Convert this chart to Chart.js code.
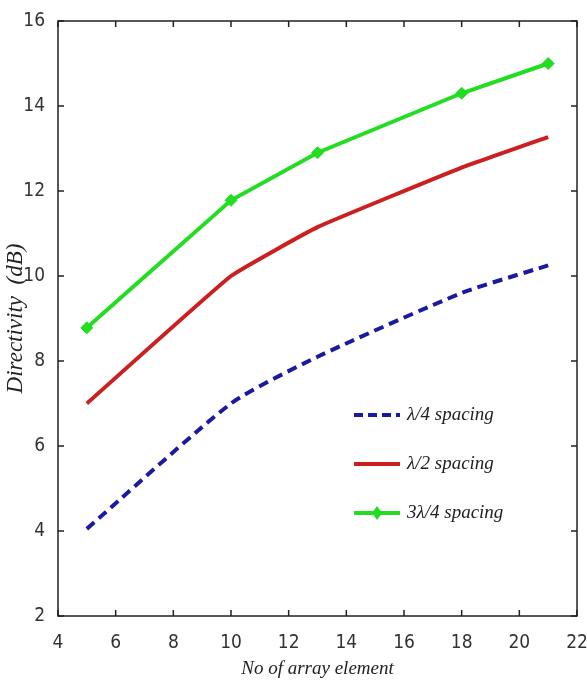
<!DOCTYPE html>
<html>
<head>
<meta charset="utf-8">
<script src="https://cdn.jsdelivr.net/npm/chart.js@4"></script>
<style>
  html, body { margin: 0; padding: 0; background: #fff; }
  #wrap { width: 587px; height: 684px; }
</style>
</head>
<body>
<div id="wrap"><canvas id="myChart" width="587" height="684"></canvas></div>
<script>
var elements = [5, 10, 13, 18, 21];
var quarterSpacing = [4.05, 7.0, 8.1, 9.6, 10.25];
var halfSpacing = [7.0, 10.0, 11.15, 12.55, 13.27];
var threeQuarterSpacing = [8.78, 11.78, 12.9, 14.3, 15.0];
var seriesNames = ["λ/4 spacing", "λ/2 spacing", "3λ/4 spacing"];
var xTicks = [4, 6, 8, 10, 12, 14, 16, 18, 20, 22];
var yTicks = [2, 4, 6, 8, 10, 12, 14, 16];

var blue = "#1a1aa0";
var red = "#cc1f1f";
var green = "#22dd22";
var tickFont = { family: "'DejaVu Sans Condensed', 'Liberation Sans Narrow', 'Liberation Sans'", size: 19 };
var titleFont = { family: "'Liberation Serif', serif", size: 19, style: "italic" };

function pts(ys) {
  return elements.map(function (x, i) { return { x: x, y: ys[i] }; });
}

// MATLAB style box with inward ticks, plus legend inside the plot
var boxPlugin = {
  id: "box",
  afterDatasetsDraw: function (chart) {
    var ctx = chart.ctx, a = chart.chartArea;
    var xs = chart.scales.x, ys = chart.scales.y;
    ctx.save();
    ctx.strokeStyle = "#222";
    ctx.lineWidth = 1.5;
    ctx.strokeRect(a.left, a.top, a.right - a.left, a.bottom - a.top);
    ctx.beginPath();
    xTicks.forEach(function (v) {
      var px = xs.getPixelForValue(v);
      ctx.moveTo(px, a.bottom); ctx.lineTo(px, a.bottom - 6);
      ctx.moveTo(px, a.top); ctx.lineTo(px, a.top + 6);
    });
    yTicks.forEach(function (v) {
      var py = ys.getPixelForValue(v);
      ctx.moveTo(a.left, py); ctx.lineTo(a.left + 6, py);
      ctx.moveTo(a.right, py); ctx.lineTo(a.right - 6, py);
    });
    ctx.stroke();

    // legend
    var lx = a.left + 296, ly = a.top + 394, gap = 49;
    var colors = [blue, red, green];
    ctx.font = "italic 19px 'Liberation Serif', serif";
    ctx.textBaseline = "middle";
    colors.forEach(function (c, i) {
      var y = ly + i * gap;
      ctx.strokeStyle = c;
      ctx.lineWidth = 4;
      ctx.setLineDash(i === 0 ? [9, 5] : []);
      ctx.beginPath();
      ctx.moveTo(lx, y); ctx.lineTo(lx + 46, y);
      ctx.stroke();
      ctx.setLineDash([]);
      if (i === 2) {
        ctx.fillStyle = c;
        ctx.beginPath();
        ctx.moveTo(lx + 23, y - 7); ctx.lineTo(lx + 28, y);
        ctx.lineTo(lx + 23, y + 7); ctx.lineTo(lx + 18, y);
        ctx.closePath(); ctx.fill();
      }
      ctx.fillStyle = "#222";
      ctx.fillText(seriesNames[i], lx + 53, y);
    });
    ctx.restore();
  }
};

new Chart("myChart", {
  type: "line",
  data: {
    datasets: [
      {
        label: seriesNames[0],
        data: pts(quarterSpacing),
        borderColor: blue,
        borderWidth: 4,
        borderDash: [10, 6],
        pointRadius: 0,
        tension: 0.2
      },
      {
        label: seriesNames[1],
        data: pts(halfSpacing),
        borderColor: red,
        borderWidth: 4,
        pointRadius: 0,
        tension: 0.1
      },
      {
        label: seriesNames[2],
        data: pts(threeQuarterSpacing),
        borderColor: green,
        backgroundColor: green,
        borderWidth: 4,
        pointStyle: "rectRot",
        pointRadius: 6,
        pointBorderWidth: 1
      }
    ]
  },
  options: {
    responsive: false,
    animation: false,
    layout: { padding: { top: 21, right: 0, left: 0, bottom: 0 } },
    plugins: {
      legend: { display: false },
      tooltip: { enabled: false }
    },
    scales: {
      x: {
        type: "linear",
        min: 4,
        max: 22,
        grid: { display: false },
        border: { display: false },
        ticks: { stepSize: 2, color: "#333", font: tickFont, padding: 8, maxRotation: 0 },
        title: { display: true, text: "No of array element", color: "#222", font: titleFont, padding: { top: 4 } },
        afterFit: function (s) { s.height = 68; s.paddingRight = 10; }
      },
      y: {
        min: 2,
        max: 16,
        grid: { display: false },
        border: { display: false },
        ticks: { stepSize: 2, color: "#333", font: tickFont, padding: 5 },
        title: { display: true, text: "Directivity  (dB)", color: "#222", font: { family: "'Liberation Serif', serif", size: 23, style: "italic" }, padding: { top: 2, bottom: 0 } },
        afterFit: function (s) { s.width = 58; }
      }
    }
  },
  plugins: [boxPlugin]
});
</script>
</body>
</html>
